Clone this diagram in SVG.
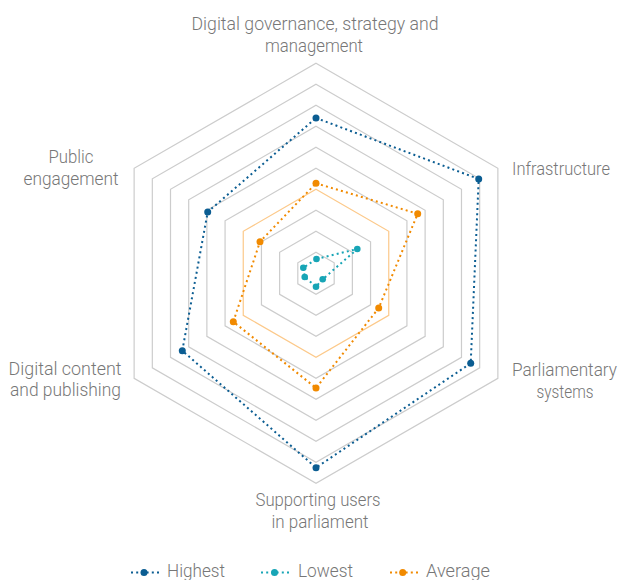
<svg xmlns="http://www.w3.org/2000/svg" width="620" height="580" viewBox="0 0 620 580">
<style>
.ring{fill:none;stroke:#cccccc;stroke-width:1.2}
.ring-avg{fill:none;stroke:#fcc98a;stroke-width:1.2}
.lbl{font-family:Roboto,"Liberation Sans",sans-serif;font-weight:300;font-size:19px;fill:#777777}
.lbl-r{font-size:17.5px}
.s{fill:none;stroke-width:2;stroke-dasharray:2 3.2}
.hi{stroke:#0b5d92}.lo{stroke:#17a5b6}.av{stroke:#f18a00}
.dhi{fill:#0b5d92}.dlo{fill:#17a5b6}.dav{fill:#f18a00}
</style>
<rect width="620" height="580" fill="#ffffff"/>
<g id="grid">
<polygon class="ring" points="316,252.3 334.19,262.8 334.19,283.8 316,294.3 297.81,283.8 297.81,262.8"/>
<polygon class="ring" points="316,231.3 352.37,252.3 352.37,294.3 316,315.3 279.63,294.3 279.63,252.3"/>
<polygon class="ring" points="316,210.3 370.56,241.8 370.56,304.8 316,336.3 261.44,304.8 261.44,241.8"/>
<polygon class="ring-avg" points="316,189.3 388.75,231.3 388.75,315.3 316,357.3 243.25,315.3 243.25,231.3"/>
<polygon class="ring" points="316,168.3 406.93,220.8 406.93,325.8 316,378.3 225.07,325.8 225.07,220.8"/>
<polygon class="ring" points="316,147.3 425.12,210.3 425.12,336.3 316,399.3 206.88,336.3 206.88,210.3"/>
<polygon class="ring" points="316,126.3 443.31,199.8 443.31,346.8 316,420.3 188.69,346.8 188.69,199.8"/>
<polygon class="ring" points="316,105.3 461.49,189.3 461.49,357.3 316,441.3 170.51,357.3 170.51,189.3"/>
<polygon class="ring" points="316,84.3 479.68,178.8 479.68,367.8 316,462.3 152.32,367.8 152.32,178.8"/>
<polygon class="ring" points="316,63.3 497.87,168.3 497.87,378.3 316,483.3 134.13,378.3 134.13,168.3"/>
</g>
<g id="axis-labels">
<text class="lbl" x="315" y="30" text-anchor="middle" textLength="247" lengthAdjust="spacingAndGlyphs">Digital governance, strategy and</text>
<text class="lbl" x="314" y="52" text-anchor="middle" textLength="98" lengthAdjust="spacingAndGlyphs">management</text>
<text class="lbl lbl-r" x="561" y="175" text-anchor="middle" textLength="98" lengthAdjust="spacingAndGlyphs">Infrastructure</text>
<text class="lbl lbl-r" x="564.5" y="376" text-anchor="middle" textLength="105" lengthAdjust="spacingAndGlyphs">Parliamentary</text>
<text class="lbl" x="565" y="398" text-anchor="middle" textLength="57" lengthAdjust="spacingAndGlyphs">systems</text>
<text class="lbl" x="318" y="506" text-anchor="middle" textLength="125" lengthAdjust="spacingAndGlyphs">Supporting users</text>
<text class="lbl" x="320" y="528" text-anchor="middle" textLength="97" lengthAdjust="spacingAndGlyphs">in parliament</text>
<text class="lbl" x="65" y="375" text-anchor="middle" textLength="113" lengthAdjust="spacingAndGlyphs">Digital content</text>
<text class="lbl" x="65.5" y="396" text-anchor="middle" textLength="111" lengthAdjust="spacingAndGlyphs">and publishing</text>
<text class="lbl" x="71" y="163" text-anchor="middle" textLength="45" lengthAdjust="spacingAndGlyphs">Public</text>
<text class="lbl" x="71" y="185" text-anchor="middle" textLength="95" lengthAdjust="spacingAndGlyphs">engagement</text>
</g>
<g id="connectors">
<polygon id="series-highest" class="s hi" points="316,118 478.7,179 470.7,363.3 316,467.7 182.3,350.7 207.7,212"/>
<polygon id="series-average" class="s av" points="316,183.3 417.7,213.7 378.7,308 316,388 233.3,321.7 260,241.7"/>
<polygon id="series-lowest" class="s lo" points="316.5,259 357.3,249 322.7,279.3 316,286.7 304.7,277 303.3,267.7"/>
</g>
<g id="points-highest" class="dhi">
<circle cx="316" cy="118" r="3.5"/><circle cx="478.7" cy="179" r="3.5"/><circle cx="470.7" cy="363.3" r="3.5"/>
<circle cx="316" cy="467.7" r="3.5"/><circle cx="182.3" cy="350.7" r="3.5"/><circle cx="207.7" cy="212" r="3.5"/>
</g>
<g id="points-average" class="dav">
<circle cx="316" cy="183.3" r="3.5"/><circle cx="417.7" cy="213.7" r="3.5"/><circle cx="378.7" cy="308" r="3.5"/>
<circle cx="316" cy="388" r="3.5"/><circle cx="233.3" cy="321.7" r="3.5"/><circle cx="260" cy="241.7" r="3.5"/>
</g>
<g id="points-lowest" class="dlo">
<circle cx="316.5" cy="259" r="3.3"/><circle cx="357.3" cy="249" r="3.3"/><circle cx="322.7" cy="279.3" r="3.3"/>
<circle cx="316" cy="286.7" r="3.3"/><circle cx="304.7" cy="277" r="3.3"/><circle cx="303.3" cy="267.7" r="3.3"/>
</g>
<g id="legend">
<g id="legend-highest">
<line class="s hi" x1="131" y1="572.5" x2="160" y2="572.5"/>
<circle class="dhi" cx="144" cy="572.5" r="3.5"/>
<text class="lbl" x="167" y="576.5" textLength="58" lengthAdjust="spacingAndGlyphs">Highest</text>
</g>
<g id="legend-lowest">
<line class="s lo" x1="261" y1="572.5" x2="290" y2="572.5"/>
<circle class="dlo" cx="274.5" cy="572.5" r="3.5"/>
<text class="lbl" x="298" y="576.5" textLength="55" lengthAdjust="spacingAndGlyphs">Lowest</text>
</g>
<g id="legend-average">
<line class="s av" x1="390" y1="572.5" x2="418" y2="572.5"/>
<circle class="dav" cx="402.7" cy="572.5" r="3.5"/>
<text class="lbl" x="426" y="576.5" textLength="64" lengthAdjust="spacingAndGlyphs">Average</text>
</g>
</g>
</svg>
